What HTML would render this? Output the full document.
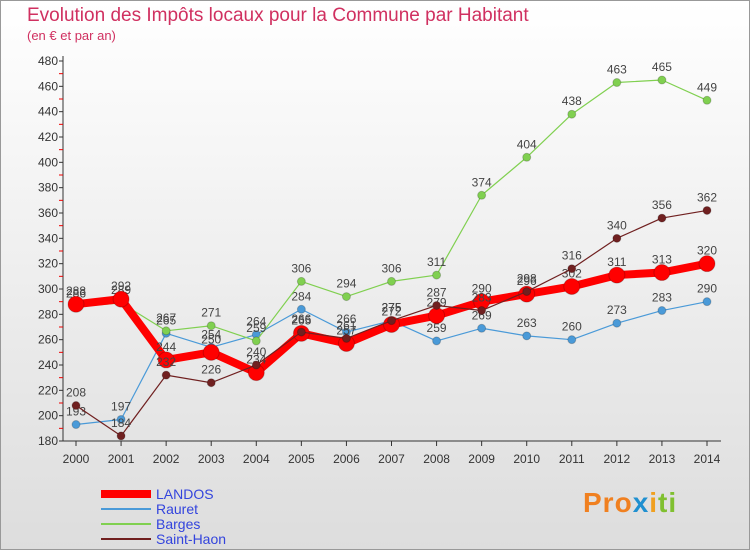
<!DOCTYPE html>
<html><head><meta charset="utf-8"><style>
body{margin:0}
#c{width:748px;height:548px;border:1px solid #999;background:linear-gradient(#fff,#ddd);position:relative;font-family:"Liberation Sans",sans-serif;overflow:hidden}
.t{position:absolute;left:26px;top:4px;font-size:19px;color:#d03060}
.s{position:absolute;left:26px;top:27px;font-size:13px;color:#d03060}
</style></head><body>
<div id="c">
<div class="t">Evolution des Impôts locaux pour la Commune par Habitant</div>
<div class="s">(en € et par an)</div>
<svg id="g" width="750" height="550" style="position:absolute;left:0;top:0"></svg>
<div style="position:absolute;left:582px;top:486px;font-size:28px;font-weight:bold;letter-spacing:1px"><span style="color:#f08020">Pro</span><span style="color:#2090d0">x</span><span style="color:#f0a020">i</span><span style="color:#80c030">ti</span></div>
</div>
<script>
const years=[2000,2001,2002,2003,2004,2005,2006,2007,2008,2009,2010,2011,2012,2013,2014];
const yTicks=[180,200,220,240,260,280,300,320,340,360,380,400,420,440,460,480];
const landos=[288,292,244,250,234,265,257,272,279,290,296,302,311,313,320];
const rauret=[193,197,265,254,264,284,266,275,259,269,263,260,273,283,290];
const barges=[286,289,267,271,259,306,294,306,311,374,404,438,463,465,449];
const saintHaon=[208,184,232,226,240,266,261,275,287,283,298,316,340,356,362];
const series=[
 {name:'Rauret',d:rauret,c:'#4a9ad8',w:1.2,r:4,lab:'rauret'},
 {name:'Barges',d:barges,c:'#80d050',w:1.2,r:4,lab:'barges'},
 {name:'LANDOS',d:landos,c:'#ff0000',w:8,r:8,lab:'landos'},
 {name:'Saint-Haon',d:saintHaon,c:'#702020',w:1.2,r:4,lab:'saint-haon'}];
const NS='http://www.w3.org/2000/svg',g=document.getElementById('g');
const X=i=>75+i*(706-75)/(years.length-1);
const Y=v=>440-(v-180)*380/300;
function el(t,a){const e=document.createElementNS(NS,t);for(const k in a)e.setAttribute(k,a[k]);g.appendChild(e);return e;}
let e=el('line',{x1:62,y1:55,x2:62,y2:440,stroke:'#333'});


e=el('line',{x1:62,y1:440,x2:720,y2:440,stroke:'#333'});


for(let v=180;v<=480;v+=10){e=el('line',{x1:58,y1:Y(v),x2:62,y2:Y(v),stroke:v%20?'#e00':'#333'});

}
yTicks.forEach(v=>{e=el('text',{x:57,y:Y(v)+4,'text-anchor':'end','font-size':12,fill:'#333'});e.textContent=v;

});
years.forEach((y,i)=>{e=el('line',{x1:X(i),y1:440,x2:X(i),y2:445,stroke:'#333'});


e=el('text',{x:X(i),y:462,'text-anchor':'middle','font-size':12,fill:'#333'});e.textContent=y;

});
series.forEach(s=>{
 e=el('polyline',{points:s.d.map((v,i)=>X(i)+','+Y(v)).join(' '),fill:'none',stroke:s.c,'stroke-width':s.w,'stroke-linejoin':'round'});
 
 
 s.d.forEach((v,i)=>{e=el('circle',{cx:X(i),cy:Y(v),r:s.r,fill:s.c,stroke:'rgba(0,0,0,0.2)'});
 
 
 e=el('text',{x:X(i),y:Y(v)-9,'text-anchor':'middle','font-size':12,fill:'#444'});e.textContent=v;
 
 });
});
const leg=[['LANDOS','#ff0000',8],['Rauret','#4a9ad8',2],['Barges','#80d050',2],['Saint-Haon','#702020',2]];
leg.forEach((l,i)=>{const y=493+i*15;
 e=el('line',{x1:100,y1:y,x2:150,y2:y,stroke:l[1],'stroke-width':l[2]});
 
 
 e=el('text',{x:155,y:y+5,'font-size':14,fill:'#3344dd'});e.textContent=l[0];
 
 });
</script>
</body></html>
